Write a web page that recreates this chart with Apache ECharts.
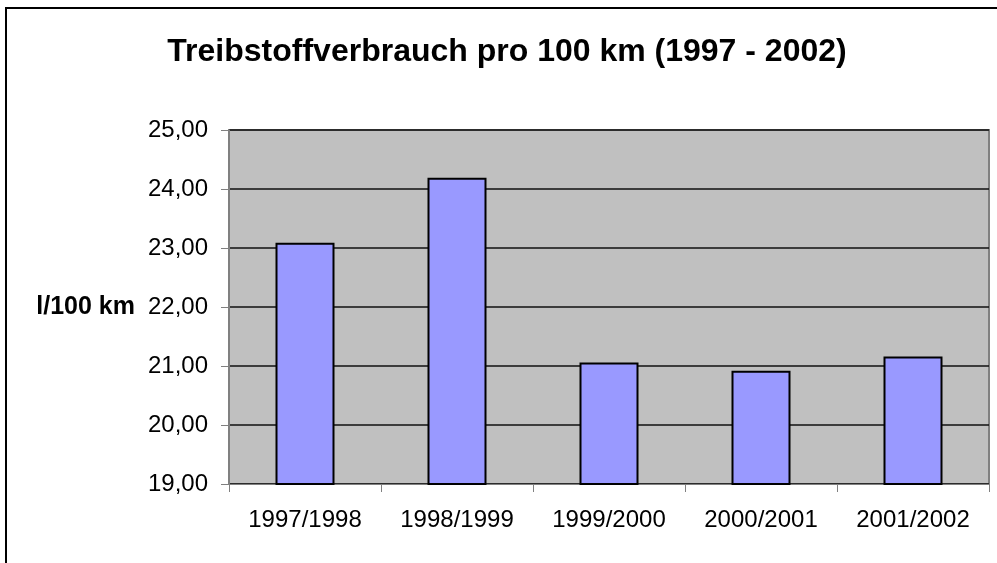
<!DOCTYPE html>
<html>
<head>
<meta charset="utf-8">
<script src="https://cdn.jsdelivr.net/npm/echarts@6/dist/echarts.min.js"></script>
<style>
  html, body { margin: 0; padding: 0; background: #fff; }
  #chart { width: 997px; height: 563px; }
</style>
</head>
<body>
<div id="chart"></div>
<script>
// Treibstoffverbrauch, Werte
const seasons = ['1997/1998', '1998/1999', '1999/2000', '2000/2001', '2001/2002']
const consumption = [23.09, 24.19, 21.06, 20.92, 21.16]
const yMin = 19
const yMax = 25
const yStep = 1

const font = "'Liberation Sans', Arial, sans-serif"

const chart = echarts.init(document.getElementById('chart'))
chart.setOption({
  animation: false,
  backgroundColor: '#fff',
  title: {
    text: 'Treibstoffverbrauch pro 100 km (1997 - 2002)',
    left: 502,
    textAlign: 'center',
    top: 31,
    textStyle: {
      fontFamily: font,
      fontSize: 32,
      fontWeight: 'bold',
      color: '#000'
    }
  },
  graphic: [{
    type: 'rect',
    shape: { x: 6, y: 8, width: 1100, height: 700 },
    style: { fill: 'none', stroke: '#000', lineWidth: 2 },
    silent: true
  }],
  grid: {
    left: 229,
    right: 8,
    top: 130,
    bottom: 79,
    show: true,
    backgroundColor: '#c0c0c0',
    borderColor: '#808080',
    borderWidth: 2
  },
  xAxis: {
    type: 'category',
    data: seasons,
    axisLine: { lineStyle: { color: '#808080', width: 1 } },
    axisTick: { show: true, length: 8, lineStyle: { color: '#808080' } },
    axisLabel: {
      margin: 24,
      fontFamily: font,
      fontSize: 24,
      color: '#000'
    }
  },
  yAxis: {
    type: 'value',
    min: yMin,
    max: yMax,
    interval: yStep,
    name: 'l/100 km',
    nameLocation: 'middle',
    nameRotate: 0,
    nameGap: 94,
    nameTextStyle: {
      fontFamily: font,
      fontSize: 25,
      fontWeight: 'bold',
      color: '#000'
    },
    axisLine: { show: true, lineStyle: { color: '#808080', width: 1 } },
    axisTick: { show: true, length: 8, lineStyle: { color: '#808080' } },
    splitLine: { lineStyle: { color: '#111', width: 1.5 } },
    axisLabel: {
      margin: 21,
      fontFamily: font,
      fontSize: 24,
      color: '#000',
      formatter: v => v.toFixed(2).replace('.', ',')
    }
  },
  series: [{
    type: 'bar',
    data: consumption,
    barWidth: 59,
    itemStyle: {
      color: '#9999ff',
      borderColor: '#000',
      borderWidth: 2
    }
  }]
})
</script>
</body>
</html>
